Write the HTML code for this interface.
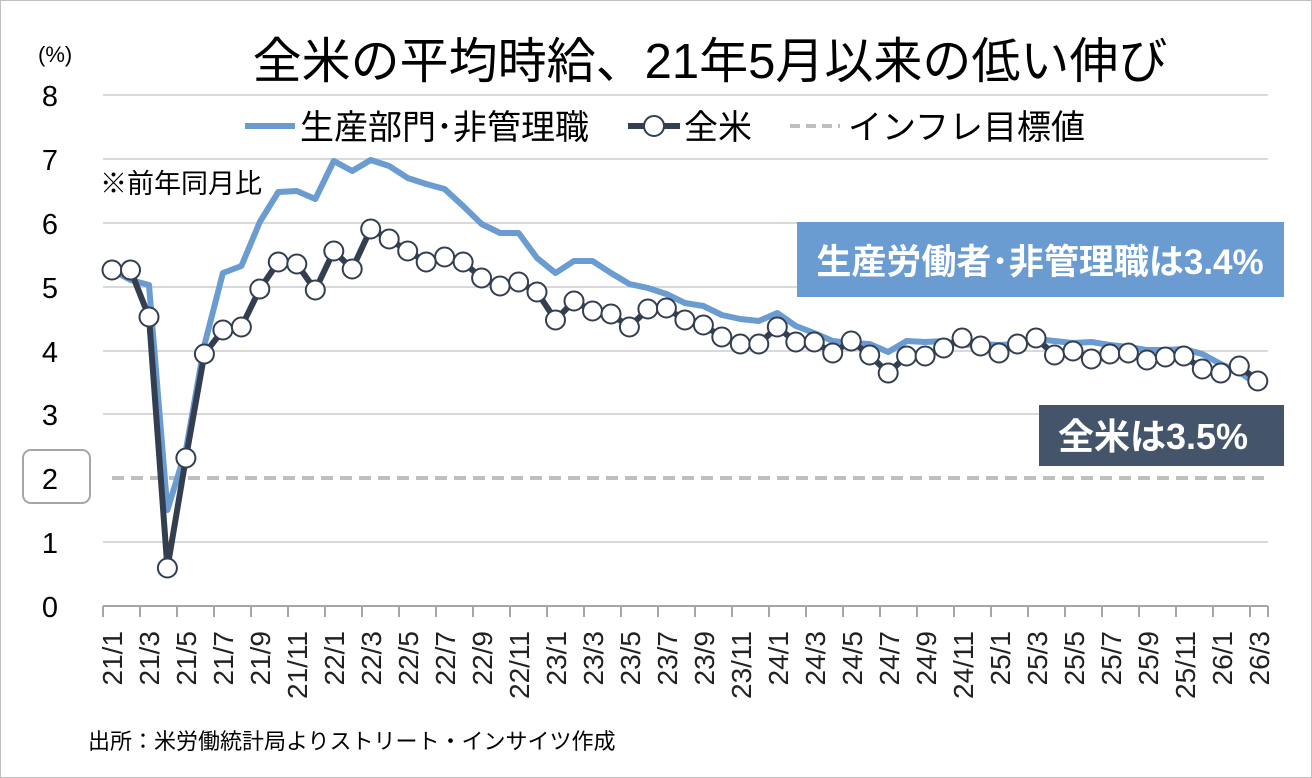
<!DOCTYPE html>
<html><head><meta charset="utf-8"><style>
html,body{margin:0;padding:0;background:#fff}
svg{display:block;font-family:"Liberation Sans","Noto Sans CJK JP",sans-serif}
</style></head><body>
<svg width="1312" height="778" viewBox="0 0 1312 778" xmlns="http://www.w3.org/2000/svg">
<rect x="0.5" y="0.5" width="1311" height="777" fill="#fff" stroke="#bfbfbf"/>
<text x="710" y="78" font-size="49" text-anchor="middle" fill="#000">全米の平均時給、21年5月以来の低い伸び</text>
<text x="38" y="62" font-size="22" fill="#000">(%)</text>
<g stroke="#d9d9d9" stroke-width="2">
<line x1="103" y1="95" x2="1268" y2="95"/><line x1="103" y1="159" x2="1268" y2="159"/>
<line x1="103" y1="223" x2="1268" y2="223"/><line x1="103" y1="287" x2="1268" y2="287"/>
<line x1="103" y1="351" x2="1268" y2="351"/><line x1="103" y1="414" x2="1268" y2="414"/>
<line x1="103" y1="542" x2="1268" y2="542"/>
</g>
<g font-size="29" fill="#000" text-anchor="middle">
<text x="50" y="106">8</text><text x="50" y="170">7</text><text x="50" y="234">6</text>
<text x="50" y="298">5</text><text x="50" y="362">4</text><text x="50" y="425">3</text>
<text x="50" y="489">2</text><text x="50" y="553">1</text><text x="50" y="617">0</text>
</g>
<rect x="23" y="450" width="67" height="53" rx="8" fill="none" stroke="#a6a6a6" stroke-width="2"/>
<line x1="112" y1="478" x2="1268" y2="478" stroke="#bfbfbf" stroke-width="4" stroke-dasharray="12,7"/>
<!-- legend -->
<line x1="245" y1="126" x2="295" y2="126" stroke="#6a9bd1" stroke-width="6"/>
<text x="300" y="139" font-size="34">生産部門･非管理職</text>
<line x1="628" y1="126" x2="680" y2="126" stroke="#333f50" stroke-width="6"/>
<circle cx="654" cy="126" r="10" fill="#fff" stroke="#333f50" stroke-width="2"/>
<text x="684" y="139" font-size="34">全米</text>
<line x1="790" y1="126" x2="840" y2="126" stroke="#bfbfbf" stroke-width="4" stroke-dasharray="10,6"/>
<text x="848" y="139" font-size="34">インフレ目標値</text>
<text x="100" y="193" font-size="27">※前年同月比</text>
<!-- series blue -->
<polyline fill="none" stroke="#6a9bd1" stroke-width="6" stroke-linejoin="round" points="112,270 130.5,280 149,285 167.4,510 185.9,450 204.4,345 222.9,273 241.4,266 259.8,222 278.3,192 296.8,191 315.3,199 333.8,161 352.2,171 370.7,160 389.2,166 407.7,178 426.2,184 444.6,189 463.1,206 481.6,224 500.1,233 518.6,233 537,258 555.5,273 574,261 592.5,261 611,273 629.4,284 647.9,288 666.4,294 684.9,303 703.4,306 721.8,315 740.3,319 758.8,321 777.3,313 795.8,326 814.2,333 832.7,341 851.2,343 869.7,344 888.2,352 906.6,341 925.1,342 943.6,341 962.1,345 980.6,344 999,345 1017.5,344 1036,339 1054.5,341 1073,343 1091.4,342 1109.9,345 1128.4,347 1146.9,350 1165.4,350 1183.8,349 1202.3,354 1220.8,364 1239.3,372 1257.8,385"/>
<polyline fill="none" stroke="#333f50" stroke-width="6" stroke-linejoin="round" points="112,270 130.5,270 149,317 167.4,568 185.9,458 204.4,354 222.9,330 241.4,327 259.8,289 278.3,262 296.8,264 315.3,290 333.8,251 352.2,269 370.7,229 389.2,239 407.7,251 426.2,262 444.6,257 463.1,262 481.6,278 500.1,286 518.6,282 537,292 555.5,320 574,301 592.5,311 611,314 629.4,327 647.9,309 666.4,308 684.9,320 703.4,325 721.8,337 740.3,344 758.8,344 777.3,327 795.8,342 814.2,342 832.7,353 851.2,341 869.7,355 888.2,373 906.6,356 925.1,356 943.6,348 962.1,338 980.6,346 999,353 1017.5,344 1036,338 1054.5,355 1073,351 1091.4,359 1109.9,354 1128.4,353 1146.9,360 1165.4,357 1183.8,356 1202.3,369 1220.8,373 1239.3,366 1257.8,381"/>
<g fill="#fff" stroke="#333f50" stroke-width="2">
<circle cx="112" cy="270" r="9.5"/><circle cx="130.5" cy="270" r="9.5"/><circle cx="149" cy="317" r="9.5"/><circle cx="167.4" cy="568" r="9.5"/><circle cx="185.9" cy="458" r="9.5"/><circle cx="204.4" cy="354" r="9.5"/><circle cx="222.9" cy="330" r="9.5"/><circle cx="241.4" cy="327" r="9.5"/><circle cx="259.8" cy="289" r="9.5"/><circle cx="278.3" cy="262" r="9.5"/><circle cx="296.8" cy="264" r="9.5"/><circle cx="315.3" cy="290" r="9.5"/><circle cx="333.8" cy="251" r="9.5"/><circle cx="352.2" cy="269" r="9.5"/><circle cx="370.7" cy="229" r="9.5"/><circle cx="389.2" cy="239" r="9.5"/><circle cx="407.7" cy="251" r="9.5"/><circle cx="426.2" cy="262" r="9.5"/><circle cx="444.6" cy="257" r="9.5"/><circle cx="463.1" cy="262" r="9.5"/><circle cx="481.6" cy="278" r="9.5"/><circle cx="500.1" cy="286" r="9.5"/><circle cx="518.6" cy="282" r="9.5"/><circle cx="537" cy="292" r="9.5"/><circle cx="555.5" cy="320" r="9.5"/><circle cx="574" cy="301" r="9.5"/><circle cx="592.5" cy="311" r="9.5"/><circle cx="611" cy="314" r="9.5"/><circle cx="629.4" cy="327" r="9.5"/><circle cx="647.9" cy="309" r="9.5"/><circle cx="666.4" cy="308" r="9.5"/><circle cx="684.9" cy="320" r="9.5"/><circle cx="703.4" cy="325" r="9.5"/><circle cx="721.8" cy="337" r="9.5"/><circle cx="740.3" cy="344" r="9.5"/><circle cx="758.8" cy="344" r="9.5"/><circle cx="777.3" cy="327" r="9.5"/><circle cx="795.8" cy="342" r="9.5"/><circle cx="814.2" cy="342" r="9.5"/><circle cx="832.7" cy="353" r="9.5"/><circle cx="851.2" cy="341" r="9.5"/><circle cx="869.7" cy="355" r="9.5"/><circle cx="888.2" cy="373" r="9.5"/><circle cx="906.6" cy="356" r="9.5"/><circle cx="925.1" cy="356" r="9.5"/><circle cx="943.6" cy="348" r="9.5"/><circle cx="962.1" cy="338" r="9.5"/><circle cx="980.6" cy="346" r="9.5"/><circle cx="999" cy="353" r="9.5"/><circle cx="1017.5" cy="344" r="9.5"/><circle cx="1036" cy="338" r="9.5"/><circle cx="1054.5" cy="355" r="9.5"/><circle cx="1073" cy="351" r="9.5"/><circle cx="1091.4" cy="359" r="9.5"/><circle cx="1109.9" cy="354" r="9.5"/><circle cx="1128.4" cy="353" r="9.5"/><circle cx="1146.9" cy="360" r="9.5"/><circle cx="1165.4" cy="357" r="9.5"/><circle cx="1183.8" cy="356" r="9.5"/><circle cx="1202.3" cy="369" r="9.5"/><circle cx="1220.8" cy="373" r="9.5"/><circle cx="1239.3" cy="366" r="9.5"/><circle cx="1257.8" cy="381" r="9.5"/>
</g>
<!-- annotation boxes -->
<rect x="797" y="222" width="487" height="75" fill="#6a9bd1"/>
<text x="1040" y="274" font-size="35" font-weight="bold" fill="#fff" text-anchor="middle">生産労働者･非管理職は3.4%</text>
<rect x="1039" y="405" width="245" height="61" fill="#44546a"/>
<text x="1153" y="449" font-size="36" font-weight="bold" fill="#fff" text-anchor="middle">全米は3.5%</text>
<!-- x axis -->
<line x1="103" y1="606" x2="1268" y2="606" stroke="#a6a6a6" stroke-width="2"/>
<g stroke="#a6a6a6" stroke-width="2">
<line x1="103" y1="606" x2="103" y2="617"/><line x1="140" y1="606" x2="140" y2="617"/><line x1="177" y1="606" x2="177" y2="617"/><line x1="214" y1="606" x2="214" y2="617"/><line x1="251" y1="606" x2="251" y2="617"/><line x1="288" y1="606" x2="288" y2="617"/><line x1="325" y1="606" x2="325" y2="617"/><line x1="362" y1="606" x2="362" y2="617"/><line x1="399" y1="606" x2="399" y2="617"/><line x1="436" y1="606" x2="436" y2="617"/><line x1="473" y1="606" x2="473" y2="617"/><line x1="510" y1="606" x2="510" y2="617"/><line x1="547" y1="606" x2="547" y2="617"/><line x1="584" y1="606" x2="584" y2="617"/><line x1="621" y1="606" x2="621" y2="617"/><line x1="658" y1="606" x2="658" y2="617"/><line x1="695" y1="606" x2="695" y2="617"/><line x1="732" y1="606" x2="732" y2="617"/><line x1="769" y1="606" x2="769" y2="617"/><line x1="806" y1="606" x2="806" y2="617"/><line x1="843" y1="606" x2="843" y2="617"/><line x1="880" y1="606" x2="880" y2="617"/><line x1="917" y1="606" x2="917" y2="617"/><line x1="954" y1="606" x2="954" y2="617"/><line x1="991" y1="606" x2="991" y2="617"/><line x1="1028" y1="606" x2="1028" y2="617"/><line x1="1065" y1="606" x2="1065" y2="617"/><line x1="1102" y1="606" x2="1102" y2="617"/><line x1="1139" y1="606" x2="1139" y2="617"/><line x1="1176" y1="606" x2="1176" y2="617"/><line x1="1213" y1="606" x2="1213" y2="617"/><line x1="1250" y1="606" x2="1250" y2="617"/><line x1="1268" y1="606" x2="1268" y2="617"/>
</g>
<g font-size="28" fill="#222" text-anchor="end">
<text transform="translate(122,631) rotate(-90)">21/1</text>
<text transform="translate(159,631) rotate(-90)">21/3</text>
<text transform="translate(196,631) rotate(-90)">21/5</text>
<text transform="translate(233,631) rotate(-90)">21/7</text>
<text transform="translate(270,631) rotate(-90)">21/9</text>
<text transform="translate(307,631) rotate(-90)">21/11</text>
<text transform="translate(344,631) rotate(-90)">22/1</text>
<text transform="translate(381,631) rotate(-90)">22/3</text>
<text transform="translate(418,631) rotate(-90)">22/5</text>
<text transform="translate(455,631) rotate(-90)">22/7</text>
<text transform="translate(492,631) rotate(-90)">22/9</text>
<text transform="translate(529,631) rotate(-90)">22/11</text>
<text transform="translate(566,631) rotate(-90)">23/1</text>
<text transform="translate(603,631) rotate(-90)">23/3</text>
<text transform="translate(640,631) rotate(-90)">23/5</text>
<text transform="translate(677,631) rotate(-90)">23/7</text>
<text transform="translate(714,631) rotate(-90)">23/9</text>
<text transform="translate(751,631) rotate(-90)">23/11</text>
<text transform="translate(788,631) rotate(-90)">24/1</text>
<text transform="translate(825,631) rotate(-90)">24/3</text>
<text transform="translate(862,631) rotate(-90)">24/5</text>
<text transform="translate(899,631) rotate(-90)">24/7</text>
<text transform="translate(936,631) rotate(-90)">24/9</text>
<text transform="translate(973,631) rotate(-90)">24/11</text>
<text transform="translate(1010,631) rotate(-90)">25/1</text>
<text transform="translate(1047,631) rotate(-90)">25/3</text>
<text transform="translate(1084,631) rotate(-90)">25/5</text>
<text transform="translate(1121,631) rotate(-90)">25/7</text>
<text transform="translate(1158,631) rotate(-90)">25/9</text>
<text transform="translate(1195,631) rotate(-90)">25/11</text>
<text transform="translate(1232,631) rotate(-90)">26/1</text>
<text transform="translate(1269,631) rotate(-90)">26/3</text>
</g>
<text x="88" y="749" font-size="22" fill="#000">出所：米労働統計局よりストリート・インサイツ作成</text>
</svg>
</body></html>
